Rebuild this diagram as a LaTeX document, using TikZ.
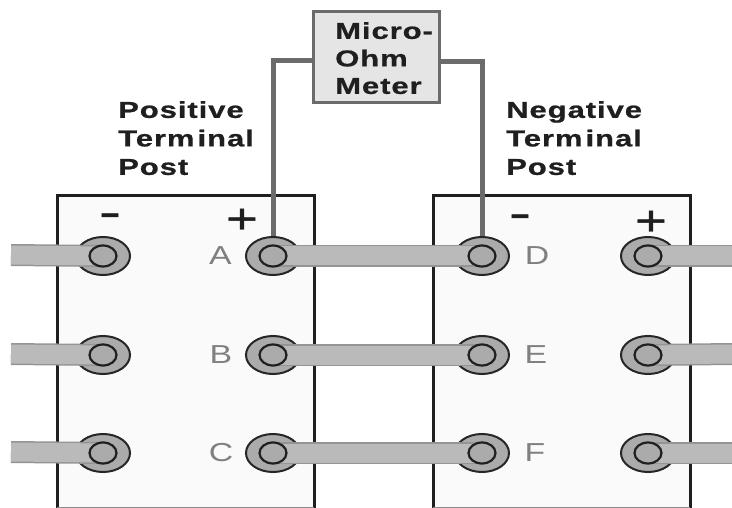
\documentclass[tikz,border=0pt]{standalone}
\usepackage{fontspec}
\usetikzlibrary{shapes.geometric}
\setmainfont{Liberation Sans}
\newfontfamily\lblfont[FakeStretch=1.35,LetterSpace=4,FakeBold=0.8]{Liberation Sans Bold}
\newfontfamily\letfont[FakeStretch=1.3]{Liberation Sans}
\newfontfamily\signfont[FakeStretch=1.3,FakeBold=0.8]{Liberation Sans}
\newfontfamily\minusfont[FakeStretch=1.6,FakeBold=0.8]{Liberation Sans}
\begin{document}
\begin{tikzpicture}[x=1pt,y=-1pt,
  battery/.style={draw=black!88,line width=3,fill=black!2},
  outerstud/.style={ellipse,draw=black!85,line width=2,fill=black!33,minimum width=54,minimum height=38,inner sep=0},
  innerstud/.style={ellipse,draw=black!88,line width=2.2,fill=black!33,minimum width=27,minimum height=21,inner sep=0},
  strap/.style={draw=black!42,line width=1.5,double=black!27,double distance=19,line cap=butt},
  wire/.style={draw=black!58,line width=5,line join=miter},
  meterbox/.style={draw=black!58,line width=3.2,fill=black!10},
  lbl/.style={align=left,anchor=north west,inner sep=0,font=\lblfont\fontsize{23}{28.5}\selectfont,text=black!88},
  postlet/.style={text=black!50,font=\letfont\fontsize{26}{26}\selectfont,inner sep=0},
  sign/.style={text=black!88,font=\signfont\fontsize{42}{42}\selectfont,inner sep=0},
  minussign/.style={text=black!88,font=\minusfont\fontsize{42}{42}\selectfont,inner sep=0}]
\useasboundingbox (0,0) rectangle (732,508);
\fill[white] (0,0) rectangle (732,508);
% batteries
\draw[battery] (57,520) |- (314,196) -- (314,520);
\draw[battery] (433,520) |- (690,196) -- (690,520);
\draw[black!45,line width=1] (433,507.5) -- (690,507.5);
\draw[black!45,line width=1] (57,507.5) -- (314,507.5);
% studs
\foreach \n/\x/\y in {a1/103/256,a2/103/355,a3/103/453,
  b1/273/256,b2/273/355,b3/273/453,
  c1/482/256,c2/482/355,c3/482/453,
  d1/648/256,d2/648/355,d3/648/453}{
  \node[outerstud] (\n) at (\x,\y) {};
}
% free ends
\coordinate (la) at (11,255); \coordinate (lb) at (11,354); \coordinate (lc) at (11,452);
\coordinate (ra) at (732,256); \coordinate (rb) at (732,354); \coordinate (rc) at (732,453);
% straps
\draw[strap] (la) -- (a1.center);
\draw[strap] (lb) -- (a2.center);
\draw[strap] (lc) -- (a3.center);
\draw[strap] (b1.center) -- (c1.center);
\draw[strap] (b2.center) -- (c2.center);
\draw[strap] (b3.center) -- (c3.center);
\draw[strap] (d1.center) -- (ra);
\draw[strap] (d2.center) -- (rb);
\draw[strap] (d3.center) -- (rc);
% inner rings
\foreach \n/\x/\y in {ia1/103/256,ia2/103/355,ia3/103/453,
  ib1/273/256,ib2/273/355,ib3/273/453,
  ic1/482/256,ic2/482/355,ic3/482/453,
  id1/648/256,id2/648/355,id3/648/453}{
  \node[innerstud] (\n) at (\x,\y) {};
}
% meter
\node[meterbox,minimum width=126,minimum height=91,inner sep=0] (meter) at (376.5,57) {};
\draw[wire] ([yshift=-4pt]meter.west) -| (b1.north);
\draw[wire] ([yshift=-5pt]meter.east) -| (c1.north);
\node[lbl,font=\lblfont\fontsize{23}{27.5}\selectfont] (mtxt) at (335,22) {Micro-\\Ohm\\Meter};
\node[lbl] (ptxt) at (118,101) {Positive\\Term\kern3pt inal\\Post};
\node[lbl] (ntxt) at (506,101) {Negative\\Term\kern3pt inal\\Post};
% letters
\node[postlet] (A) at (220.5,256) {A};
\node[postlet] (B) at (221,355) {B};
\node[postlet] (C) at (221,453) {C};
\node[postlet] (D) at (537,256) {D};
\node[postlet] (E) at (536,355) {E};
\node[postlet] (F) at (535,453) {F};
% signs
\node[minussign] (m1) at (110,220) {-};
\node[sign] (p1) at (242,221) {+};
\node[minussign] (m2) at (520,221) {-};
\node[sign] (p2) at (651,223) {+};
\end{tikzpicture}
\end{document}
